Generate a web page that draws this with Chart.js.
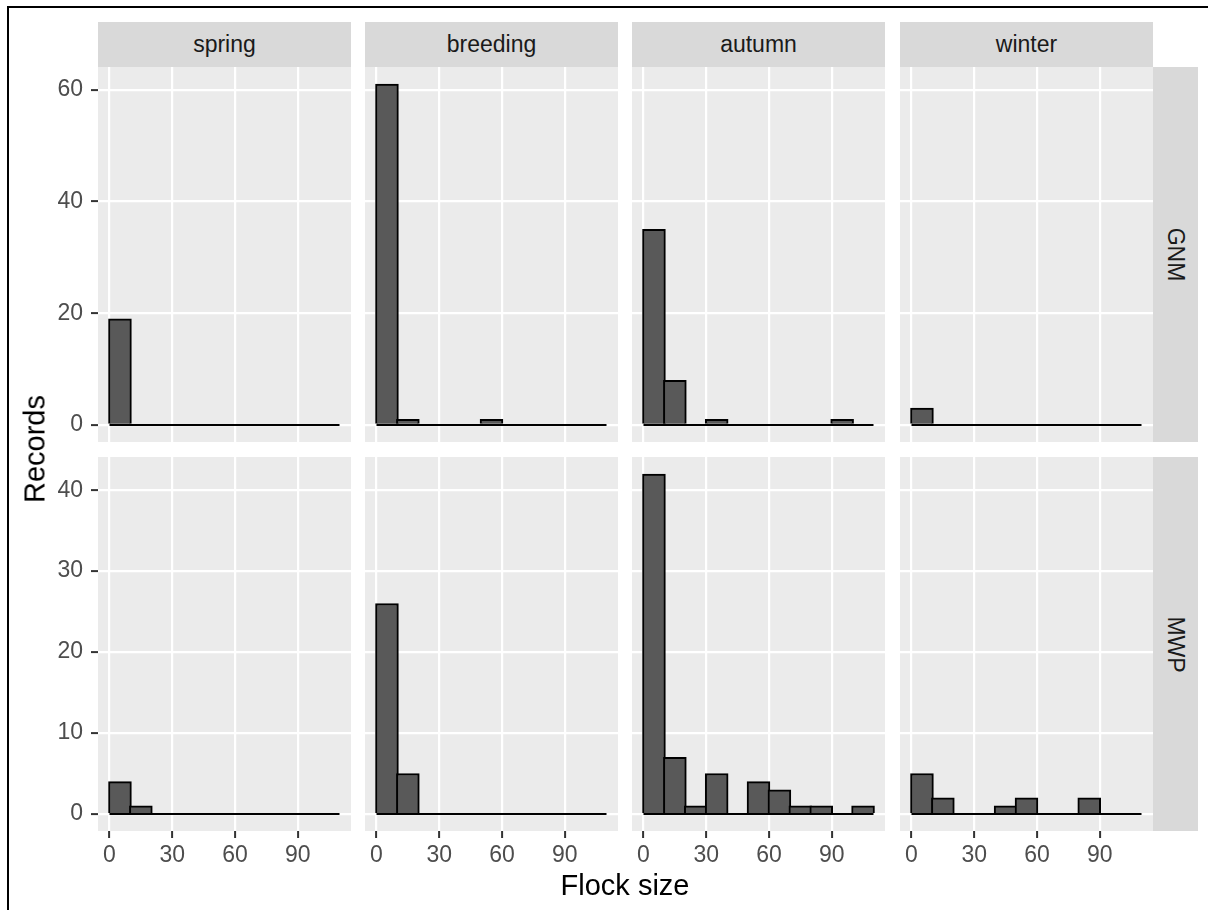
<!DOCTYPE html>
<html>
<head>
<meta charset="utf-8">
<script src="https://cdn.jsdelivr.net/npm/chart.js@4"></script>
<style>
body { margin: 0; background: #fff; font-family: 'Liberation Sans', Arial, sans-serif; }
#fig { position: relative; width: 1208px; height: 910px; overflow: hidden; background: #fff; }
#frame { position: absolute; left: 7px; top: 6px; width: 1300px; height: 1000px; border-left: 2px solid #000; border-top: 2px solid #000; }
canvas { position: absolute; }
.strip { position: absolute; background: #D9D9D9; color: #1A1A1A; font-size: 23px; display: flex; align-items: center; justify-content: center; }
.strip.side span { transform: rotate(90deg); white-space: nowrap; }
.title { position: absolute; color: #000; font-size: 29px; white-space: nowrap; transform: translate(-50%, -50%); }
</style>
</head>
<body>
<div id="fig">
  <div id="frame"></div>
</div>
<script>
// histogram bins: flock size, width 10
var binMids = [5, 15, 25, 35, 45, 55, 65, 75, 85, 95, 105];
var binEdges = [0, 110];
var seasons = ['spring', 'breeding', 'autumn', 'winter'];
var sites = ['GNM', 'MWP'];

// records per bin
var gnmSpring   = [19, 0, 0, 0, 0, 0, 0, 0, 0, 0, 0];
var gnmBreeding = [61, 1, 0, 0, 0, 1, 0, 0, 0, 0, 0];
var gnmAutumn   = [35, 8, 0, 1, 0, 0, 0, 0, 0, 1, 0];
var gnmWinter   = [3, 0, 0, 0, 0, 0, 0, 0, 0, 0, 0];
var mwpSpring   = [4, 1, 0, 0, 0, 0, 0, 0, 0, 0, 0];
var mwpBreeding = [26, 5, 0, 0, 0, 0, 0, 0, 0, 0, 0];
var mwpAutumn   = [42, 7, 1, 5, 0, 4, 3, 1, 1, 0, 1];
var mwpWinter   = [5, 2, 0, 0, 1, 2, 0, 0, 2, 0, 0];

var xTicks = [0, 30, 60, 90];
var yTicksGNM = [0, 20, 40, 60];
var yTicksMWP = [0, 10, 20, 30, 40];

// layout
var xMin = -5.5, xMax = 115.5;
var panelLeft = [98, 365, 632, 900];
var panelW = 253;
var rowTop = [67, 457];
var rowH = [375, 374];
var yAxisW = 50, xAxisH = 40;

var fig = document.getElementById('fig');
Chart.defaults.font.family = "'Liberation Sans', Arial, sans-serif";

var panelBg = {
    id: 'panelBg',
    beforeDraw: function (chart) {
        var a = chart.chartArea, ctx = chart.ctx;
        ctx.save();
        ctx.fillStyle = '#EBEBEB';
        ctx.fillRect(a.left, a.top, a.right - a.left, a.bottom - a.top);
        ctx.restore();
    }
};

function noPad(s) {
    s.paddingTop = 0; s.paddingBottom = 0; s.paddingLeft = 0; s.paddingRight = 0;
}

function makePanel(r, c, counts, yTicks, yMin, yMax) {
    var leftCol = c === 0, bottomRow = r === 1;
    var cv = document.createElement('canvas');
    cv.width = panelW + (leftCol ? yAxisW : 0);
    cv.height = rowH[r] + (bottomRow ? xAxisH : 0);
    cv.style.left = (panelLeft[c] - (leftCol ? yAxisW : 0)) + 'px';
    cv.style.top = rowTop[r] + 'px';
    fig.appendChild(cv);
    var pxPerUnit = panelW / (xMax - xMin);

    new Chart(cv, {
        type: 'bar',
        data: {
            datasets: [
                {
                    type: 'line',
                    data: [{ x: binEdges[0], y: 0 }, { x: binEdges[1], y: 0 }],
                    borderColor: '#000', borderWidth: 2, pointRadius: 0, order: 0
                },
                {
                    type: 'bar',
                    data: binMids.map(function (m, i) { return { x: m, y: counts[i] }; }),
                    backgroundColor: '#595959', borderColor: '#000', borderWidth: 2,
                    barThickness: pxPerUnit * 10 + 2, order: 1
                }
            ]
        },
        options: {
            responsive: false,
            animation: false,
            plugins: { legend: { display: false }, tooltip: { enabled: false } },
            layout: { padding: 0 },
            scales: {
                x: {
                    type: 'linear', min: xMin, max: xMax, offset: false,
                    afterBuildTicks: function (s) { s.ticks = xTicks.map(function (v) { return { value: v }; }); },
                    afterFit: function (s) { s.height = bottomRow ? xAxisH : 0; noPad(s); },
                    grid: { color: '#fff', lineWidth: 2.2, offset: false, drawTicks: bottomRow, tickLength: 7, tickColor: '#333', tickWidth: 2 },
                    border: { display: false },
                    ticks: { display: bottomRow, color: '#4D4D4D', font: { size: 23 }, padding: 4, maxRotation: 0, autoSkip: false }
                },
                y: {
                    type: 'linear', min: yMin, max: yMax,
                    afterBuildTicks: function (s) { s.ticks = yTicks.map(function (v) { return { value: v }; }); },
                    afterFit: function (s) { s.width = leftCol ? yAxisW : 0; noPad(s); },
                    grid: { color: '#fff', lineWidth: 2.2, drawTicks: leftCol, tickLength: 7, tickColor: '#333', tickWidth: 2 },
                    border: { display: false },
                    ticks: { display: leftCol, color: '#4D4D4D', font: { size: 23 }, padding: 8, autoSkip: false }
                }
            }
        },
        plugins: [panelBg]
    });
}

var gnmRows = [gnmSpring, gnmBreeding, gnmAutumn, gnmWinter];
var mwpRows = [mwpSpring, mwpBreeding, mwpAutumn, mwpWinter];
for (var c = 0; c < 4; c++) {
    makePanel(0, c, gnmRows[c], yTicksGNM, -3.05, 64.05);
    makePanel(1, c, mwpRows[c], yTicksMWP, -2.1, 44.1);
}

// strips
seasons.forEach(function (s, c) {
    var d = document.createElement('div');
    d.className = 'strip';
    d.style.left = panelLeft[c] + 'px'; d.style.top = '22px';
    d.style.width = panelW + 'px'; d.style.height = '45px';
    d.textContent = s;
    fig.appendChild(d);
});
sites.forEach(function (s, r) {
    var d = document.createElement('div');
    d.className = 'strip side';
    d.style.left = '1153px'; d.style.top = rowTop[r] + 'px';
    d.style.width = '45px'; d.style.height = rowH[r] + 'px';
    d.innerHTML = '<span>' + s + '</span>';
    fig.appendChild(d);
});

// axis titles
var yt = document.createElement('div');
yt.className = 'title';
yt.style.left = '35px'; yt.style.top = '449px';
yt.style.transform = 'translate(-50%, -50%) rotate(-90deg)';
yt.textContent = 'Records';
fig.appendChild(yt);

var xt = document.createElement('div');
xt.className = 'title';
xt.style.left = '625px'; xt.style.top = '885px';
xt.textContent = 'Flock size';
fig.appendChild(xt);
</script>
</body>
</html>
